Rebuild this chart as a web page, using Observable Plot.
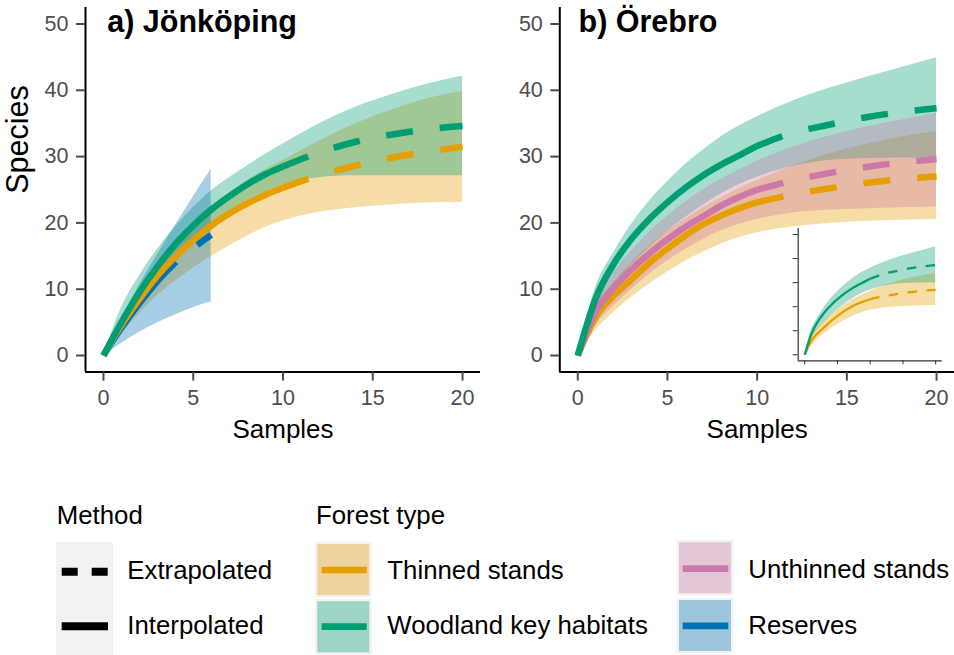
<!DOCTYPE html>
<html><head><meta charset="utf-8">
<script src="https://cdn.jsdelivr.net/npm/d3@7"></script>
<script src="https://cdn.jsdelivr.net/npm/@observablehq/plot@0.6"></script>
<style>
body{margin:0;background:#fff;}
#root{position:relative;width:954px;height:655px;overflow:hidden;font-family:"Liberation Sans",Arial,sans-serif;}
#root > svg{position:absolute;}
</style></head><body><div id="root"></div>
<script>
// ---------- categories, ticks ----------
const forestTypes = ["Thinned stands", "Woodland key habitats", "Unthinned stands", "Reserves"];
const forestColors = ["#E69F00", "#009E73", "#CC79A7", "#0072B2"];
const lineOrder = ["Reserves", "Thinned stands", "Unthinned stands", "Woodland key habitats"];
const methods = ["Extrapolated", "Interpolated"];
const xTicks = [0, 5, 10, 15, 20];
const yTicks = [0, 10, 20, 30, 40, 50];
const xDomain = [-1, 21];
const yDomain = [-2.5, 52.5];

// ---------- sample sizes ----------
const samples = [0, 1, 2, 3, 4, 5, 6, 7, 8, 9, 10, 12, 14, 16, 18, 20];
const samplesReserves = [0, 1, 2, 3, 4, 5, 6];

// ---------- a) Jönköping ----------
const jkpThinned   = [0, 4.6, 8.5, 12.0, 14.9, 17.4, 19.6, 21.4, 22.9, 24.2, 25.3, 27.2, 28.6, 29.8, 30.7, 31.5];
const jkpThinnedLo = [0, 3.2, 6.3, 9.0, 11.2, 13.2, 14.9, 16.5, 18.0, 19.3, 20.3, 21.6, 22.3, 22.7, 23.0, 23.1];
const jkpThinnedHi = [0, 5.6, 10.2, 13.9, 17.0, 19.8, 22.3, 24.5, 26.4, 28.0, 29.4, 32.3, 34.9, 37.0, 38.7, 39.8];
const jkpWoodland   = [0, 5.0, 9.5, 13.4, 16.8, 19.6, 22.0, 24.0, 25.8, 27.3, 28.5, 30.6, 32.2, 33.3, 34.1, 34.6];
const jkpWoodlandLo = [0, 3.8, 7.5, 10.9, 14.0, 16.9, 19.5, 21.6, 23.3, 24.6, 25.7, 26.8, 27.1, 27.1, 27.1, 27.1];
const jkpWoodlandHi = [0, 7.2, 12.0, 16.0, 19.4, 22.3, 24.8, 26.8, 28.6, 30.3, 31.9, 34.9, 37.4, 39.3, 40.9, 42.1];
const jkpReserves   = [0, 4.2, 7.9, 11.2, 14.0, 16.2, 18.2];
const jkpReservesLo = [0, 1.8, 3.5, 4.9, 6.1, 7.2, 8.1];
const jkpReservesHi = [0, 5.5, 10.6, 15.2, 19.6, 23.9, 28.1];
const jkpObserved = {"Thinned stands": 10, "Woodland key habitats": 10, "Reserves": 3};

// ---------- b) Örebro ----------
const oreThinned   = [0, 5.8, 9.0, 11.5, 14.0, 16.1, 18.1, 19.8, 21.1, 22.2, 23.1, 24.3, 25.2, 26.0, 26.6, 27.0];
const oreThinnedLo = [0, 3.8, 6.5, 8.8, 10.8, 12.6, 14.2, 15.6, 16.8, 17.8, 18.5, 19.4, 19.9, 20.2, 20.4, 20.5];
const oreThinnedHi = [0, 7.5, 11.0, 14.0, 16.5, 18.7, 20.6, 22.3, 23.8, 25.2, 26.4, 28.6, 30.4, 31.8, 32.9, 33.8];
const oreWoodland   = [0, 8.6, 13.8, 17.6, 20.6, 23.1, 25.3, 27.2, 28.8, 30.2, 31.6, 33.6, 34.8, 35.9, 36.7, 37.3];
const oreWoodlandLo = [0, 6.5, 10.5, 13.6, 16.3, 18.7, 20.8, 22.7, 24.4, 25.8, 26.9, 28.5, 29.4, 29.7, 29.8, 29.8];
const oreWoodlandHi = [0, 10.3, 15.5, 19.8, 23.3, 26.2, 28.8, 31.0, 33.0, 34.6, 36.0, 38.4, 40.3, 41.9, 43.4, 44.9];
const oreUnthinned   = [0, 6.6, 10.2, 13.0, 15.4, 17.5, 19.4, 21.0, 22.6, 23.9, 25.0, 26.4, 27.5, 28.4, 29.1, 29.6];
const oreUnthinnedLo = [0, 4.5, 7.5, 10.0, 12.3, 14.3, 16.0, 17.5, 18.8, 19.8, 20.5, 21.5, 21.9, 22.1, 22.3, 22.4];
const oreUnthinnedHi = [0, 8.5, 12.5, 15.8, 18.6, 21.0, 23.1, 25.0, 26.6, 28.0, 29.3, 31.4, 33.1, 34.4, 35.5, 36.5];
const oreObserved = {"Thinned stands": 10, "Woodland key habitats": 10, "Unthinned stands": 10};

// ---------- build ----------
const FONT = '"Liberation Sans", Arial, Helvetica, sans-serif';
const S = (type, xs, ys, lo, hi, nObs) => ({type, xs, ys, lo, hi, nObs});
const jkpSeries = [
  S("Thinned stands", samples, jkpThinned, jkpThinnedLo, jkpThinnedHi, jkpObserved["Thinned stands"]),
  S("Woodland key habitats", samples, jkpWoodland, jkpWoodlandLo, jkpWoodlandHi, jkpObserved["Woodland key habitats"]),
  S("Reserves", samplesReserves, jkpReserves, jkpReservesLo, jkpReservesHi, jkpObserved["Reserves"])
];
const oreSeries = [
  S("Thinned stands", samples, oreThinned, oreThinnedLo, oreThinnedHi, oreObserved["Thinned stands"]),
  S("Woodland key habitats", samples, oreWoodland, oreWoodlandLo, oreWoodlandHi, oreObserved["Woodland key habitats"]),
  S("Unthinned stands", samples, oreUnthinned, oreUnthinnedLo, oreUnthinnedHi, oreObserved["Unthinned stands"])
];

function rows(s) { return s.xs.map((x, i) => ({x, y: s.ys[i], lo: s.lo[i], hi: s.hi[i], type: s.type})); }

function seriesMarks(list, lw, dash) {
  const bands = forestTypes.map(t => list.find(s => s.type === t)).filter(Boolean)
    .map(s => Plot.areaY(rows(s), {x: "x", y1: "lo", y2: "hi", fill: "type", fillOpacity: 0.35, curve: "monotone-x"}));
  const lines = lineOrder.map(t => list.find(s => s.type === t)).filter(Boolean).flatMap(s => {
    const r = rows(s);
    const base = {x: "x", y: "y", stroke: "type", strokeWidth: lw, curve: "monotone-x", strokeLinecap: "butt", strokeLinejoin: "round"};
    return [
      Plot.line(r.filter(d => d.x <= s.nObs), base),
      Plot.line(r.filter(d => d.x >= s.nObs), {...base, strokeDasharray: dash})
    ];
  });
  return [...bands, ...lines];
}

function panel(p) {
  const svg = Plot.plot({
    width: p.width, height: 450,
    marginLeft: p.marginLeft, marginRight: 0, marginTop: 6.9, marginBottom: 78.4,
    x: {domain: xDomain, label: null},
    y: {domain: yDomain, label: null},
    color: {domain: forestTypes, range: forestColors},
    style: {fontFamily: FONT, fontSize: "21px", background: "none", overflow: "visible"},
    marks: [
      ...seriesMarks(p.series, 6.5, "27,27"),
      Plot.ruleX([xDomain[0]], {stroke: "#000", strokeWidth: 2}),
      Plot.ruleY([yDomain[0]], {stroke: "#000", strokeWidth: 2}),
      Plot.axisX({ticks: xTicks, tickSize: 9, tickPadding: 8.5, fontSize: 21.5, color: "#4D4D4D", strokeWidth: 2, label: null}),
      Plot.axisY({ticks: yTicks, tickSize: 9, tickPadding: 8, fontSize: 21.5, color: "#4D4D4D", strokeWidth: 2, label: null}),
      Plot.text([p.title], {frameAnchor: "top-left", text: d => d, dx: p.titleDx, dy: 24.8, fontSize: 30.5, fontWeight: "bold", textAnchor: "start", lineAnchor: "bottom", fill: "#000"}),
      Plot.text(["Samples"], {frameAnchor: "bottom", text: d => d, dy: 66, fontSize: 26, lineAnchor: "bottom", fill: "#000"}),
      p.yLabel ? Plot.text([p.yLabel], {frameAnchor: "left", text: d => d, dx: -58, dy: 4, rotate: -90, fontSize: 30.5, lineAnchor: "bottom", fill: "#000"}) : null
    ]
  });
  svg.style.left = p.left + "px";
  svg.style.top = "0px";
  return svg;
}

const root = document.getElementById("root");
root.appendChild(panel({title: "a) Jönköping", left: 0, width: 480, marginLeft: 85, titleDx: 21.7, series: jkpSeries, yLabel: "Species"}));
root.appendChild(panel({title: "b) Örebro", left: 480, width: 474, marginLeft: 79.3, titleDx: 18.7, series: oreSeries}));

// ---------- inset (Örebro, thinned vs woodland key habitats) ----------
const inset = Plot.plot({
  width: 184, height: 160,
  marginLeft: 27.7, marginRight: 12.3, marginTop: 13, marginBottom: 14.7,
  x: {domain: xDomain, label: null},
  y: {domain: yDomain, label: null},
  color: {domain: forestTypes, range: forestColors},
  style: {fontFamily: FONT, background: "none", overflow: "visible"},
  marks: [
    ...seriesMarks(oreSeries.filter(s => s.type !== "Unthinned stands"), 2.3, "9.5,9.5"),
    Plot.ruleX([xDomain[0]], {stroke: "#333", strokeWidth: 1.2}),
    Plot.ruleY([yDomain[0]], {stroke: "#333", strokeWidth: 1.2}),
    Plot.axisX({ticks: xTicks, tickSize: 4, text: null, color: "#333", label: null}),
    Plot.axisY({ticks: yTicks, tickSize: 5, text: null, color: "#333", label: null})
  ]
});
inset.style.left = "770px";
inset.style.top = "215px";
root.appendChild(inset);

// ---------- legend ----------
const leg = d3.create("svg").attr("width", 954).attr("height", 205)
  .attr("viewBox", "0 450 954 205").style("left", "0px").style("top", "450px")
  .style("font-family", FONT);
const fs = 25.8;
leg.append("text").attr("x", 56.7).attr("y", 524.3).attr("font-size", fs).text("Method");
leg.append("rect").attr("x", 56).attr("y", 542).attr("width", 57).attr("height", 115).attr("fill", "#F2F2F2");
const methodRows = [
  {label: methods[0], y: 571.7, base: 579, dash: "16,14"},
  {label: methods[1], y: 626.3, base: 634.3, dash: null}
];
methodRows.forEach(m => {
  const l = leg.append("line").attr("x1", 61.7).attr("x2", 108).attr("y1", m.y).attr("y2", m.y)
    .attr("stroke", "#000").attr("stroke-width", 8);
  if (m.dash) l.attr("stroke-dasharray", m.dash);
  leg.append("text").attr("x", 127.3).attr("y", m.base).attr("font-size", fs).text(m.label);
});
leg.append("text").attr("x", 316).attr("y", 524.3).attr("font-size", fs).text("Forest type");
const keyPos = [
  {ox: 315, oy: 541.7, lx1: 321.7, lx2: 366.7, ly: 570, tx: 387.3, tb: 579},
  {ox: 315, oy: 599, lx1: 321.7, lx2: 366.7, ly: 626.7, tx: 387.3, tb: 634.3},
  {ox: 676.7, oy: 540, lx1: 682.7, lx2: 728.3, ly: 568.7, tx: 748.3, tb: 577.7},
  {ox: 676.7, oy: 597.7, lx1: 682.7, lx2: 728.3, ly: 625.8, tx: 748.3, tb: 634.3}
];
forestTypes.forEach((t, i) => {
  const k = keyPos[i];
  leg.append("rect").attr("x", k.ox).attr("y", k.oy).attr("width", 56.7).attr("height", 55.5).attr("fill", "#F2F2F2");
  leg.append("rect").attr("x", k.ox + 2.3).attr("y", k.oy + 2.3).attr("width", 52).attr("height", 51)
    .attr("fill", forestColors[i]).attr("fill-opacity", 0.35);
  leg.append("line").attr("x1", k.lx1).attr("x2", k.lx2).attr("y1", k.ly).attr("y2", k.ly)
    .attr("stroke", forestColors[i]).attr("stroke-width", 6.7);
  leg.append("text").attr("x", k.tx).attr("y", k.tb).attr("font-size", fs).text(t);
});
root.appendChild(leg.node());
</script>
</body></html>
